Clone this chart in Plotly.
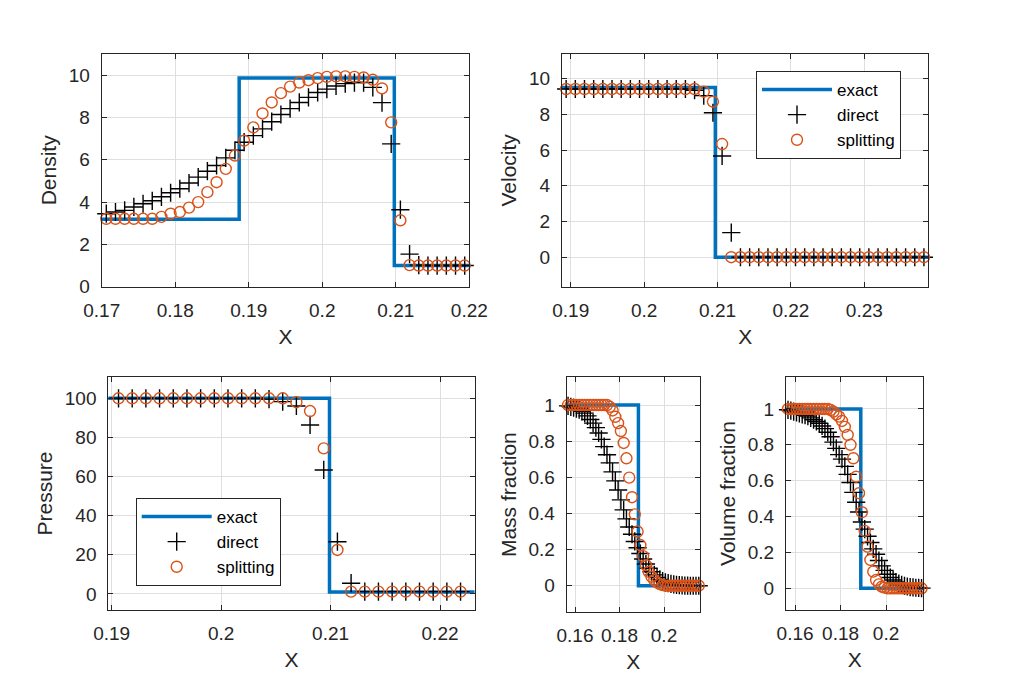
import plotly.graph_objects as go

# ---------------- data ----------------
DENS_X = [0.170625, 0.171875, 0.173125, 0.174375, 0.175625, 0.176875, 0.178125, 0.179375, 0.180625, 0.181875,
          0.183125, 0.184375, 0.185625, 0.186875, 0.188125, 0.189375, 0.190625, 0.191875, 0.193125, 0.194375,
          0.195625, 0.196875, 0.198125, 0.199375, 0.200625, 0.201875, 0.203125, 0.204375, 0.205625, 0.206875,
          0.208125, 0.209375, 0.210625, 0.211875, 0.213125, 0.214375, 0.215625, 0.216875, 0.218125, 0.219375]
DENS_DIRECT = [3.45, 3.53, 3.61, 3.77, 3.92, 4.06, 4.25, 4.44, 4.63, 4.90,
               5.18, 5.46, 5.73, 6.09, 6.45, 6.83, 7.14, 7.46, 7.80, 8.14,
               8.42, 8.71, 8.95, 9.18, 9.34, 9.49, 9.60, 9.65, 9.65, 9.42,
               8.70, 6.75, 3.64, 1.54, 1.02, 1.00, 1.00, 1.00, 1.00, 1.00]
DENS_SPLIT = [3.21, 3.21, 3.21, 3.21, 3.21, 3.21, 3.30, 3.45, 3.53, 3.74,
              4.00, 4.47, 4.94, 5.57, 6.20, 6.90, 7.53, 8.19, 8.71, 9.15,
              9.46, 9.65, 9.76, 9.86, 9.92, 9.94, 9.94, 9.92, 9.89, 9.78,
              9.37, 7.77, 3.14, 1.02, 1.00, 1.00, 1.00, 1.00, 1.00, 1.00]
DENS_EXACT_X = [0.17, 0.1887, 0.1887, 0.2098, 0.2098, 0.22]
DENS_EXACT_Y = [3.19, 3.19, 9.86, 9.86, 1.0, 1.0]

VEL_X = [0.189375, 0.190625, 0.191875, 0.193125, 0.194375, 0.195625, 0.196875, 0.198125, 0.199375, 0.200625,
         0.201875, 0.203125, 0.204375, 0.205625, 0.206875, 0.208125, 0.209375, 0.210625, 0.211875, 0.213125,
         0.214375, 0.215625, 0.216875, 0.218125, 0.219375, 0.220625, 0.221875, 0.223125, 0.224375, 0.225625,
         0.226875, 0.228125, 0.229375, 0.230625, 0.231875, 0.233125, 0.234375, 0.235625, 0.236875, 0.238125]
VEL_DIRECT = [9.42, 9.42, 9.42, 9.42, 9.42, 9.42, 9.42, 9.42, 9.42, 9.42,
              9.42, 9.42, 9.42, 9.42, 9.35, 9.05, 8.09, 5.67, 1.38, 0.0,
              0.0, 0.0, 0.0, 0.0, 0.0, 0.0, 0.0, 0.0, 0.0, 0.0,
              0.0, 0.0, 0.0, 0.0, 0.0, 0.0, 0.0, 0.0, 0.0, 0.0]
VEL_SPLIT = [9.42, 9.42, 9.42, 9.42, 9.42, 9.42, 9.42, 9.42, 9.42, 9.42,
             9.42, 9.42, 9.42, 9.42, 9.42, 9.27, 8.71, 6.34, 0.0, 0.0,
             0.0, 0.0, 0.0, 0.0, 0.0, 0.0, 0.0, 0.0, 0.0, 0.0,
             0.0, 0.0, 0.0, 0.0, 0.0, 0.0, 0.0, 0.0, 0.0, 0.0]
VEL_EXACT_X = [0.1888, 0.2097, 0.2097, 0.2388]
VEL_EXACT_Y = [9.5, 9.5, 0.0, 0.0]

PRES_X = [0.190625, 0.191875, 0.193125, 0.194375, 0.195625, 0.196875, 0.198125, 0.199375, 0.200625, 0.201875,
          0.203125, 0.204375, 0.205625, 0.206875, 0.208125, 0.209375, 0.210625, 0.211875, 0.213125, 0.214375,
          0.215625, 0.216875, 0.218125, 0.219375, 0.220625, 0.221875]
PRES_DIRECT = [100, 100, 100, 100, 100, 100, 100, 100, 100, 100,
               100, 99.6, 98.3, 96.1, 86.4, 63.4, 26.7, 5.5, 1.2, 1.2,
               1.2, 1.2, 1.2, 1.2, 1.2, 1.2]
PRES_SPLIT = [100, 100, 100, 100, 100, 100, 100, 100, 100, 100,
              100, 100, 100, 98.0, 93.5, 74.4, 22.5, 1.2, 1.2, 1.2,
              1.2, 1.2, 1.2, 1.2, 1.2, 1.2]
PRES_EXACT_X = [0.1896, 0.2099, 0.2099, 0.2232]
PRES_EXACT_Y = [100, 100, 1.0, 1.0]

FRAC_X = [0.156875, 0.158125, 0.159375, 0.160625, 0.161875, 0.163125, 0.164375, 0.165625, 0.166875, 0.168125,
          0.169375, 0.170625, 0.171875, 0.173125, 0.174375, 0.175625, 0.176875, 0.178125, 0.179375, 0.180625,
          0.181875, 0.183125, 0.184375, 0.185625, 0.186875, 0.188125, 0.189375, 0.190625, 0.191875, 0.193125,
          0.194375, 0.195625, 0.196875, 0.198125, 0.199375, 0.200625, 0.201875, 0.203125, 0.204375, 0.205625,
          0.206875, 0.208125, 0.209375, 0.210625, 0.211875, 0.213125, 0.214375, 0.215625]
MASS_DIRECT = [0.995, 0.99, 0.985, 0.98, 0.975, 0.965, 0.955, 0.94, 0.92, 0.90,
               0.875, 0.845, 0.81, 0.77, 0.725, 0.68, 0.63, 0.58, 0.53, 0.475,
               0.42, 0.37, 0.325, 0.285, 0.245, 0.21, 0.178, 0.148, 0.12, 0.097,
               0.077, 0.06, 0.046, 0.035, 0.026, 0.019, 0.014, 0.01, 0.007, 0.005,
               0.003, 0.002, 0.001, 0.001, 0.0, 0.0, 0.0, 0.0]
MASS_SPLIT = [1.0, 1.0, 1.0, 1.0, 1.0, 1.0, 1.0, 1.0, 1.0, 1.0,
              1.0, 1.0, 1.0, 1.0, 1.0, 0.99, 0.97, 0.935, 0.90, 0.856,
              0.79, 0.705, 0.598, 0.49, 0.395, 0.30, 0.225, 0.164, 0.114, 0.077,
              0.05, 0.031, 0.018, 0.009, 0.004, 0.0, 0.0, 0.0, 0.0, 0.0,
              0.0, 0.0, 0.0, 0.0, 0.0, 0.0, 0.0, 0.0]
MASS_EXACT_X = [0.1562, 0.1885, 0.1885, 0.2162]
MASS_EXACT_Y = [1.0, 1.0, 0.0, 0.0]

VOL_DIRECT = [0.995, 0.99, 0.985, 0.98, 0.975, 0.97, 0.965, 0.96, 0.95, 0.94,
              0.93, 0.92, 0.905, 0.89, 0.87, 0.845, 0.815, 0.78, 0.745, 0.72,
              0.68, 0.635, 0.59, 0.535, 0.48, 0.425, 0.37, 0.33, 0.29, 0.255,
              0.22, 0.19, 0.155, 0.125, 0.10, 0.078, 0.06, 0.046, 0.035, 0.026,
              0.019, 0.014, 0.01, 0.007, 0.005, 0.003, 0.002, 0.001]
VOL_SPLIT = [1.0, 1.0, 1.0, 1.0, 1.0, 1.0, 1.0, 1.0, 1.0, 1.0,
             1.0, 1.0, 1.0, 1.0, 1.0, 0.994, 0.985, 0.97, 0.957, 0.933,
             0.90, 0.855, 0.80, 0.725, 0.622, 0.53, 0.424, 0.32, 0.232, 0.158,
             0.093, 0.046, 0.022, 0.009, 0.004, 0.0, 0.0, 0.0, 0.0, 0.0,
             0.0, 0.0, 0.0, 0.0, 0.0, 0.0, 0.0, 0.0]
VOL_EXACT_X = [0.156, 0.1889, 0.1889, 0.2164]
VOL_EXACT_Y = [1.0, 1.0, 0.0, 0.0]

# tick values / labels
DENS_XTICKS = [0.17, 0.18, 0.19, 0.2, 0.21, 0.22]
DENS_XLABELS = ["0.17", "0.18", "0.19", "0.2", "0.21", "0.22"]
DENS_YTICKS = [0, 2, 4, 6, 8, 10]
VEL_XTICKS = [0.19, 0.2, 0.21, 0.22, 0.23]
VEL_XLABELS = ["0.19", "0.2", "0.21", "0.22", "0.23"]
VEL_YTICKS = [0, 2, 4, 6, 8, 10]
PRES_XTICKS = [0.19, 0.2, 0.21, 0.22]
PRES_XLABELS = ["0.19", "0.2", "0.21", "0.22"]
PRES_YTICKS = [0, 20, 40, 60, 80, 100]
FRAC_XTICKS = [0.16, 0.18, 0.2]
FRAC_XLABELS = ["0.16", "0.18", "0.2"]
FRAC_YTICKS = [0, 0.2, 0.4, 0.6, 0.8, 1]
FRAC_YLABELS = ["0", "0.2", "0.4", "0.6", "0.8", "1"]

SERIES_NAMES = ["exact", "direct", "splitting"]

# ---------------- style ----------------
W, H = 1011, 686
BLUE = "#0072BD"
ORANGE = "#D95319"
AXC = "#262626"
GRID = "#dfdfdf"
FONT = "Liberation Sans, Arial, Helvetica, sans-serif"

# panel boxes in pixels: (left, right, top, bottom)
PANELS = [
    dict(box=(101.7, 469.3, 54, 286.7), xr=[0.17, 0.22], yr=[0, 11],
         xt=DENS_XTICKS, xl=DENS_XLABELS, yt=DENS_YTICKS, yl=[str(v) for v in DENS_YTICKS],
         ytitle="Density", x=DENS_X, d=DENS_DIRECT, s=DENS_SPLIT, ex=DENS_EXACT_X, ey=DENS_EXACT_Y, legend=None),
    dict(box=(562, 928.3, 54, 286.7), xr=[0.18881, 0.23872], yr=[-1.65, 11.38],
         xt=VEL_XTICKS, xl=VEL_XLABELS, yt=VEL_YTICKS, yl=[str(v) for v in VEL_YTICKS],
         ytitle="Velocity", x=VEL_X, d=VEL_DIRECT, s=VEL_SPLIT, ex=VEL_EXACT_X, ey=VEL_EXACT_Y, legend="legend"),
    dict(box=(108.3, 474.5, 377, 610), xr=[0.18969, 0.22315], yr=[-8.2, 110.9],
         xt=PRES_XTICKS, xl=PRES_XLABELS, yt=PRES_YTICKS, yl=[str(v) for v in PRES_YTICKS],
         ytitle="Pressure", x=PRES_X, d=PRES_DIRECT, s=PRES_SPLIT, ex=PRES_EXACT_X, ey=PRES_EXACT_Y, legend="legend2"),
    dict(box=(566.7, 700, 377, 612.3), xr=[0.15627, 0.21618], yr=[-0.147, 1.155],
         xt=FRAC_XTICKS, xl=FRAC_XLABELS, yt=FRAC_YTICKS, yl=FRAC_YLABELS,
         ytitle="Mass fraction", x=FRAC_X, d=MASS_DIRECT, s=MASS_SPLIT, ex=MASS_EXACT_X, ey=MASS_EXACT_Y, legend=None),
    dict(box=(786, 923.3, 377, 610), xr=[0.156, 0.2164], yr=[-0.121, 1.178],
         xt=FRAC_XTICKS, xl=FRAC_XLABELS, yt=FRAC_YTICKS, yl=FRAC_YLABELS,
         ytitle="Volume fraction", x=FRAC_X, d=VOL_DIRECT, s=VOL_SPLIT, ex=VOL_EXACT_X, ey=VOL_EXACT_Y, legend=None),
]

fig = go.Figure()
layout = dict(width=W, height=H, autosize=False,
              margin=dict(l=0, r=0, t=0, b=0, pad=0, autoexpand=False),
              paper_bgcolor="white", plot_bgcolor="white", showlegend=True,
              font=dict(family=FONT, color=AXC))

common = dict(showline=True, linecolor=AXC, linewidth=1, mirror="ticks", ticks="inside",
              ticklen=5, tickcolor=AXC, tickwidth=1, showgrid=True, gridcolor=GRID, gridwidth=1,
              zeroline=False, automargin=False, tickfont=dict(family=FONT, size=19, color=AXC),
              title_font=dict(family=FONT, size=21, color=AXC), tickmode="array")

for i, p in enumerate(PANELS, start=1):
    xa = "x" if i == 1 else f"x{i}"
    ya = "y" if i == 1 else f"y{i}"
    l, r, t, b = p["box"]
    layout["xaxis" if i == 1 else f"xaxis{i}"] = dict(
        common, domain=[l / W, r / W], range=p["xr"], anchor=ya,
        tickvals=p["xt"], ticktext=p["xl"], ticklabelstandoff=6,
        title=dict(text="X", standoff=9))
    layout["yaxis" if i == 1 else f"yaxis{i}"] = dict(
        common, domain=[1 - b / H, 1 - t / H], range=p["yr"], anchor=xa,
        tickvals=p["yt"], ticktext=p["yl"], ticklabelstandoff=7,
        title=dict(text=p["ytitle"], standoff=6))
    show = p["legend"] is not None
    extra = dict(legend=p["legend"]) if show else {}
    fig.add_trace(go.Scatter(x=p["ex"], y=p["ey"], mode="lines", name=SERIES_NAMES[0],
                             line=dict(color=BLUE, width=3.5), xaxis=xa, yaxis=ya,
                             showlegend=show, **extra))
    fig.add_trace(go.Scatter(x=p["x"], y=p["d"], mode="markers", name=SERIES_NAMES[1],
                             marker=dict(symbol="cross-thin-open", size=13, color="black",
                                         line=dict(color="black", width=1.4)),
                             cliponaxis=False, xaxis=xa, yaxis=ya, showlegend=show, **extra))
    fig.add_trace(go.Scatter(x=p["x"], y=p["s"], mode="markers", name=SERIES_NAMES[2],
                             marker=dict(symbol="circle-open", size=11, color=ORANGE,
                                         line=dict(color=ORANGE, width=1.4)),
                             cliponaxis=False, xaxis=xa, yaxis=ya, showlegend=show, **extra))

legend_common = dict(xanchor="left", yanchor="top", bordercolor=AXC, borderwidth=1, bgcolor="white",
                     font=dict(family=FONT, size=17, color="black"), itemwidth=70, tracegroupgap=0)
layout["legend"] = dict(legend_common, x=756 / W, y=1 - 71 / H)
layout["legend2"] = dict(legend_common, x=135.7 / W, y=1 - 498 / H)

fig.update_layout(**layout)
fig.write_html("out.html")
